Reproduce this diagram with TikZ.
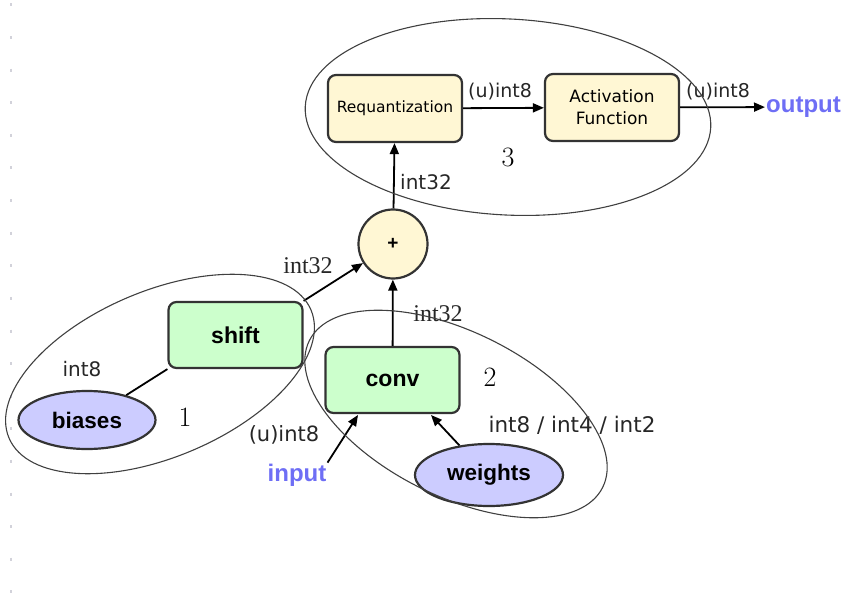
\documentclass[tikz,border=0pt]{standalone}
\usepackage{fontspec}
\usetikzlibrary{arrows.meta,shapes.geometric}
\newfontfamily\lblfont{DejaVu Sans}
\newfontfamily\boxfont{Liberation Sans}
\newfontfamily\seriflbl{Liberation Serif}
\definecolor{boxyellow}{HTML}{FFF7D4}
\definecolor{boxgreen}{HTML}{CCFFCC}
\definecolor{boxlav}{HTML}{CCCCFF}
\definecolor{iocolor}{HTML}{6E6EF5}
\definecolor{edgegray}{HTML}{333333}
\definecolor{tickgray}{HTML}{D2D2DA}
\begin{document}
\begin{tikzpicture}[x=1pt,y=-1pt,
  stage/.style={draw=edgegray, line width=2.2pt, rounded corners=8pt,
    minimum width=134pt, minimum height=67pt, inner sep=0pt, align=center},
  yellowstage/.style={stage, fill=boxyellow, font=\lblfont\fontsize{15.5}{22}\selectfont},
  greenstage/.style={stage, fill=boxgreen, font=\boxfont\bfseries\fontsize{23}{26}\selectfont},
  tensor/.style={ellipse, draw=edgegray, line width=2.2pt, fill=boxlav, inner sep=0pt,
    font=\boxfont\bfseries\fontsize{22.5}{26}\selectfont},
  flow/.style={-{Triangle[length=11pt,width=9pt]}, line width=1.8pt},
  plain/.style={line width=1.8pt},
  group/.style={draw=black!75, line width=1.1pt},
  lbl/.style={font=\lblfont\fontsize{20}{24}\selectfont, text=black!85, inner sep=0pt},
  slbl/.style={font=\seriflbl\fontsize{24}{28}\selectfont, text=black!85, inner sep=0pt},
  num/.style={font=\rmfamily\fontsize{28}{32}\selectfont, inner sep=0pt},
  io/.style={font=\boxfont\bfseries\fontsize{24}{28}\selectfont, text=iocolor, inner sep=1pt}]
\useasboundingbox (0,0) rectangle (841,599);

% faint margin ticks
\foreach \k in {0,...,18}
  \draw[tickgray, line width=2pt] (11,{3.5+32.6*\k}) -- ++(0,3);

% stages
\node[yellowstage] (requant) at (395,108.5) {Requantization};
\node[yellowstage, font=\lblfont\fontsize{17}{22}\selectfont] (act) at (612,107.5) {Activation\\Function};
\node[circle, draw=edgegray, line width=2.2pt, fill=boxyellow, minimum size=69pt, inner sep=0pt,
  font=\boxfont\bfseries\fontsize{19}{20}\selectfont] (plus) at (393,244) {+};
\node[greenstage, minimum height=66pt] (shift) at (235.5,335) {shift};
\node[greenstage, minimum height=66pt] (conv) at (392.5,380) {conv};
\node[tensor, minimum width=137pt, minimum height=58pt] (biases) at (87,420) {biases};
\node[tensor, minimum width=148pt, minimum height=62pt] (weights) at (489,475) {weights};
\node[io, anchor=west] (output) at (765,107) {output};
\node[io] (input) at (297,475) {input};

% connector ends on the conv box
\coordinate (convin) at (358,415);
\coordinate (convw) at (431,415);

% connectors
\draw[flow] (requant) -- (act);
\draw[flow] (act) -- (output);
\draw[flow] (plus) -- (requant);
\draw[flow] (conv) -- (plus);
\draw[flow] (shift.north east) -- (plus);
\draw[plain] (biases) -- (shift.south west);
\draw[flow] (input.north east) -- (convin);
\draw[flow] (weights.135) -- (convw);

% data type labels
\node[lbl, font=\lblfont\fontsize{19}{24}\selectfont] (l1) at (500,92) {(u)int8};
\node[lbl, font=\lblfont\fontsize{19}{24}\selectfont] (l2) at (718,92) {(u)int8};
\node[lbl] (l3) at (426,182) {int32};
\node[slbl] (l4) at (308,266) {int32};
\node[slbl] (l5) at (438,314) {int32};
\node[lbl] (l6) at (82,369) {int8};
\node[lbl, font=\lblfont\fontsize{21}{24}\selectfont] (l7) at (284,435) {(u)int8};
\node[lbl, font=\lblfont\fontsize{21.5}{24}\selectfont] (l8) at (572,425) {int8 / int4 / int2};

% group numbers
\node[num] (n1) at (185,417) {1};
\node[num] (n2) at (490,377) {2};
\node[num] (n3) at (508,157) {3};

% groups
\draw[group, rotate around={23:(160,374)}] (160,374) ellipse [x radius=164, y radius=83];
\draw[group, rotate around={-26.6:(456,414)}] (456,414) ellipse [x radius=164, y radius=82];
\draw[group, rotate around={-3:(508,117)}] (508,117) ellipse [x radius=203, y radius=98];
\end{tikzpicture}
\end{document}
